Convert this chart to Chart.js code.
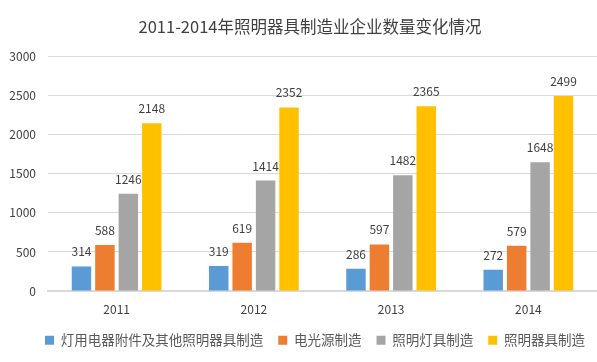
<!DOCTYPE html>
<html><head><meta charset="utf-8">
<script src="https://cdn.jsdelivr.net/npm/chart.js@4"></script>
<style>html,body{margin:0;padding:0;background:#fff}#w{width:597px;height:362px}</style>
</head><body><div id="w"><canvas id="c" width="597" height="362"></canvas></div>
<script>
const categories = ["2011","2012","2013","2014"];
const seriesNames = ["灯用电器附件及其他照明器具制造","电光源制造","照明灯具制造","照明器具制造"];
const s1 = [314,319,286,272];
const s2 = [588,619,597,579];
const s3 = [1246,1414,1482,1648];
const s4 = [2148,2352,2365,2499];
const yTicks = [0,500,1000,1500,2000,2500,3000];
const colors = ["#5B9BD5","#ED7D31","#A5A5A5","#FFC000"];
const FONT = "'Noto Sans CJK SC','Noto Sans',sans-serif";

const labelPlugin = {
  id:'vals',
  afterLayout(chart){
    if(chart.legend){chart.legend.left += 13; chart.legend.right += 13;}
    if(chart.titleBlock){chart.titleBlock.left += 8; chart.titleBlock.right += 8;}
  },
  afterDatasetsDraw(chart){
    const ctx = chart.ctx;
    ctx.save();
    ctx.font = "12px " + FONT;
    ctx.fillStyle = "#404040";
    ctx.textAlign = "center";
    ctx.textBaseline = "alphabetic";
    chart.data.datasets.forEach((ds,i)=>{
      chart.getDatasetMeta(i).data.forEach((bar,j)=>{
        ctx.fillText(String(ds.data[j]), bar.x, bar.y - 10);
      });
    });
    ctx.restore();
  }
};

new Chart(document.getElementById('c'),{
  type:'bar',
  data:{
    labels:categories,
    datasets:[s1,s2,s3,s4].map((d,i)=>({label:seriesNames[i],data:d,backgroundColor:colors[i],barPercentage:0.83,categoryPercentage:0.683}))
  },
  options:{
    responsive:false,
    animation:false,
    devicePixelRatio:1,
    layout:{padding:{left:0,right:-7,top:4,bottom:5}},
    plugins:{
      title:{display:true,text:"2011-2014年照明器具制造业企业数量变化情况",color:"#404040",font:{family:FONT,size:16.5,weight:'normal'},padding:{top:13,bottom:20}},
      legend:{position:'bottom',labels:{color:"#595959",font:{family:FONT,size:13.5},boxWidth:9,boxHeight:9,padding:15}},
      tooltip:{enabled:false}
    },
    scales:{
      x:{grid:{display:false,drawTicks:false},border:{color:"#d9d9d9",width:2},ticks:{color:"#404040",font:{family:FONT,size:12},padding:11},
         afterFit(sc){sc.height = 27.5;}},
      y:{min:0,max:3000,afterBuildTicks(ax){ax.ticks=yTicks.map(v=>({value:v}));},
         afterFit(sc){sc.width = 48;},
         grid:{color:"#d9d9d9",drawTicks:false},border:{display:false},
         ticks:{color:"#404040",font:{family:FONT,size:12},padding:12,callback:v=>String(v)}}
    }
  },
  plugins:[labelPlugin]
});
</script></body></html>
